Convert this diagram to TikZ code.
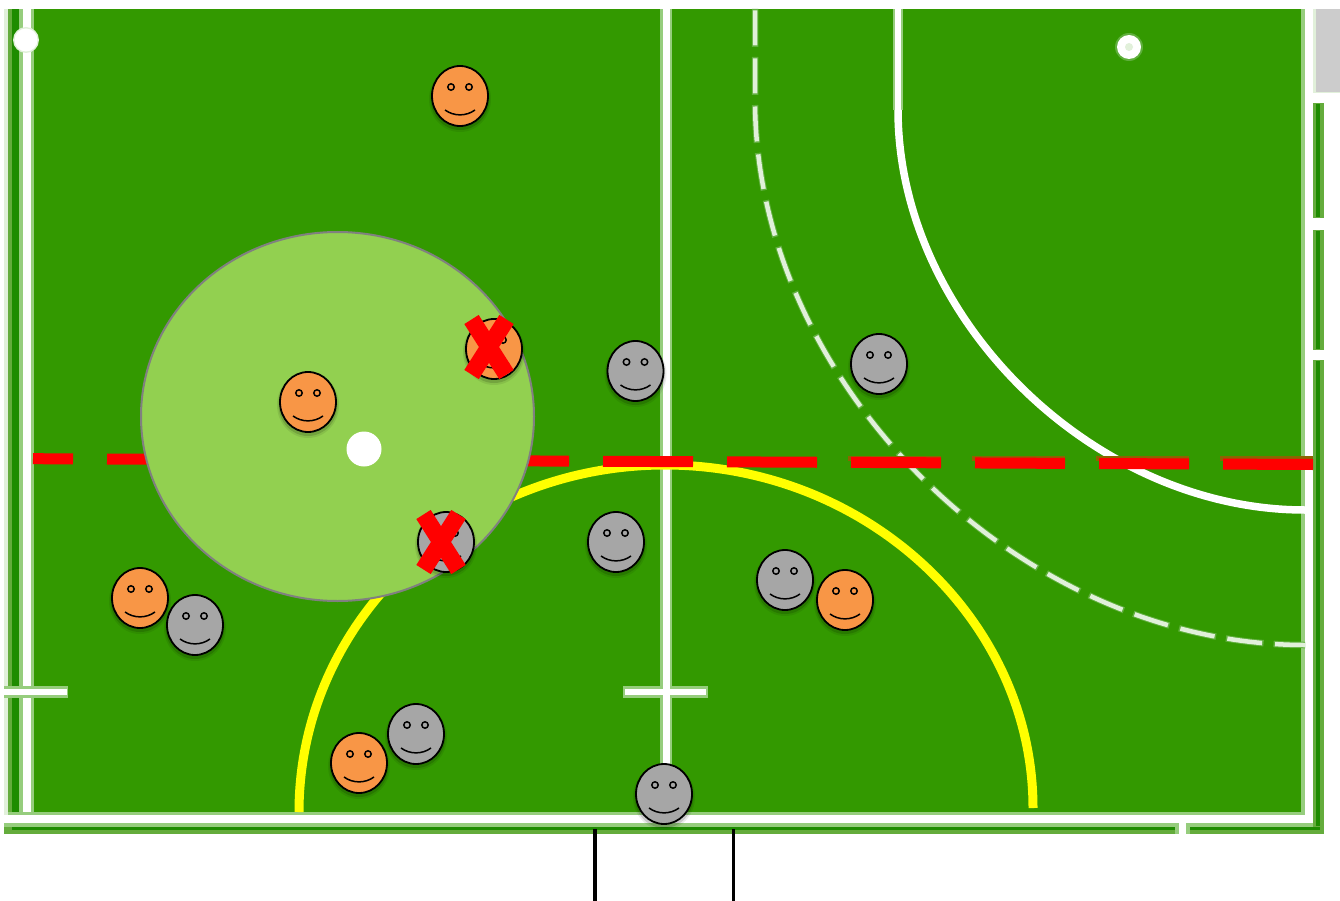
\documentclass[tikz,border=0pt]{standalone}
\definecolor{field}{RGB}{51,153,0}
\definecolor{deep}{RGB}{30,140,0}
\definecolor{midg}{RGB}{100,172,60}
\definecolor{halo}{RGB}{150,205,125}
\definecolor{softhalo}{RGB}{95,175,60}
\definecolor{pale}{RGB}{225,240,218}
\definecolor{zone}{RGB}{146,208,80}
\definecolor{orangeface}{RGB}{248,150,70}
\definecolor{grayface}{RGB}{166,166,166}
\definecolor{boxgray}{RGB}{204,204,204}
\definecolor{redline}{RGB}{255,0,0}
\definecolor{brownedge}{RGB}{140,100,0}
\definecolor{yellowline}{RGB}{255,255,0}
\tikzset{
  markhalo/.style={draw=halo,line width=12pt},
  markline/.style={draw=white,line width=7pt},
  tickhalo/.style={draw=halo,line width=12pt},
  tickline/.style={draw=white,line width=6.5pt},
  facebase/.style={draw=black,line width=1.8pt},
  feature/.style={draw=black,line width=1.5pt},
  crossbar/.style={draw=redline,line width=17pt,line cap=butt},
  pics/face/.style={code={
    \fill[black,opacity=.08] (0,3) ellipse [x radius=31,y radius=33];
    \fill[black,opacity=.14] (0,2.5) ellipse [x radius=29.5,y radius=31.5];
    \draw[facebase,fill=#1] (0,0) ellipse [x radius=28,y radius=30];
    \draw[feature] (-9,-9) circle [radius=3.2];
    \draw[feature] (9,-9) circle [radius=3.2];
    \draw[feature] (-15,14) .. controls (-6,20.5) and (6,20.5) .. (15,14);
  }},
  pics/redcross/.style={code={
    \draw[crossbar] (-17.5,-27.5) -- (17.5,27.5);
    \draw[crossbar] (17.5,-27.5) -- (-17.5,27.5);
  }}
}
\begin{document}
\begin{tikzpicture}[x=1pt,y=-1pt]
\useasboundingbox (0,0) rectangle (1340,901);
\fill[white] (0,0) rectangle (1340,901);
% pitch border layers
\fill[pale] (4,9) rectangle (8,834);
\fill[midg] (8,9) rectangle (1301,834);
\fill[deep] (12,9) rectangle (1301,830);
\fill[field] (19,9) rectangle (1301,827);
\fill[halo] (19,9) rectangle (34,812);
\fill[field] (34,9) rectangle (1301,812);
\fill[white] (23,9) rectangle (31,815);
% ticks under the lines
\draw[tickhalo] (4,692) -- (68,692);
\draw[tickhalo] (623,692) -- (708,692);
\draw[tickline] (4,692) -- (67,692);
\draw[tickline] (625,692) -- (706,692);
% bottom line
\fill[halo] (8,812) rectangle (1305,827);
\fill[white] (4,815) rectangle (1313,823);
\fill[midg] (4,827) rectangle (1324,834);
\fill[deep] (12,827) rectangle (1320,830);
\fill[halo] (4,823) rectangle (1316,827);
\fill[halo] (1175,827) rectangle (1190,834);
\fill[white] (1179,823) rectangle (1186,834);
% right line
\fill[halo] (1301,9) rectangle (1305,815);
\fill[white] (1305,9) rectangle (1313,823);
% right bars
\foreach \ya/\yb in {103/218,230/350,360/827}{
  \fill[midg] (1313,\ya) rectangle (1324,\yb);
  \fill[deep] (1316,\ya+1) rectangle (1320,\yb-1);
}
\fill[pale] (1313,9) rectangle (1340,93);
\fill[boxgray] (1316,9) rectangle (1340,92);
% centre line
\draw[markhalo] (666,9) -- (666,815);
\draw[markline] (666,9) -- (666,815);
\draw[white,line width=6.5pt] (650,692) -- (682,692);
% spots
\fill[pale] (26,40) circle [radius=13];
\fill[white] (26,40) circle [radius=11.5];
\fill[softhalo] (1129,47) circle [radius=14];
\fill[white] (1129,47) circle [radius=12];
\fill[pale] (1129,47) circle [radius=4];
% solid arc
\draw[halo,line width=9.5pt] (898,9) -- (898,110);
\draw[white,line width=6.5pt] (898,9) -- (898,110);
\draw[white,line width=7.5pt] (898,110) .. controls (898,318) and (1093,510) .. (1305,510);
% dashed arc
\draw[softhalo,line width=6.5pt,dash pattern=on 38pt off 10pt] (755,9) -- (755,100) .. controls (755,383) and (1019,645) .. (1305,645);
\draw[pale,line width=4.5pt,dash pattern=on 35pt off 13pt,dash phase=46.5pt] (755,9) -- (755,100) .. controls (755,383) and (1019,645) .. (1305,645);
% yellow arc
\draw[yellowline,line width=9pt] (299,812) .. controls (299,620) and (464,465) .. (665,465) .. controls (867,465) and (1033,620) .. (1033,808);
% red dashed line
\foreach \x in {851,975,1099,1223}{
  \fill[brownedge] (\x-3,456) rectangle (\x+90,461);
}
\draw[redline,line width=11pt,dash pattern=on 90pt off 34pt] (1313,464.5) -- (33,458.7);
% zone and ball
\draw[draw=gray,fill=zone,line width=2pt] (337.5,416.5) ellipse [x radius=196.5,y radius=184.5];
\fill[white] (364,449) circle [radius=17.5];
% players
\foreach \x/\y in {460/96,494/349,308/402,140/598,845/600,359/763}{
  \pic at (\x,\y) {face=orangeface};
}
\foreach \x/\y in {635.5/371,879/364,446/542,616/542,785/580,195/625,416/734,664/794}{
  \pic at (\x,\y) {face=grayface};
}
\pic at (489,347) {redcross};
\pic at (441,542) {redcross};
% goal posts
\draw[black,line width=3.6pt] (595,829) -- (595,901);
\draw[black,line width=3pt] (733.5,829) -- (733.5,901);
\end{tikzpicture}
\end{document}
